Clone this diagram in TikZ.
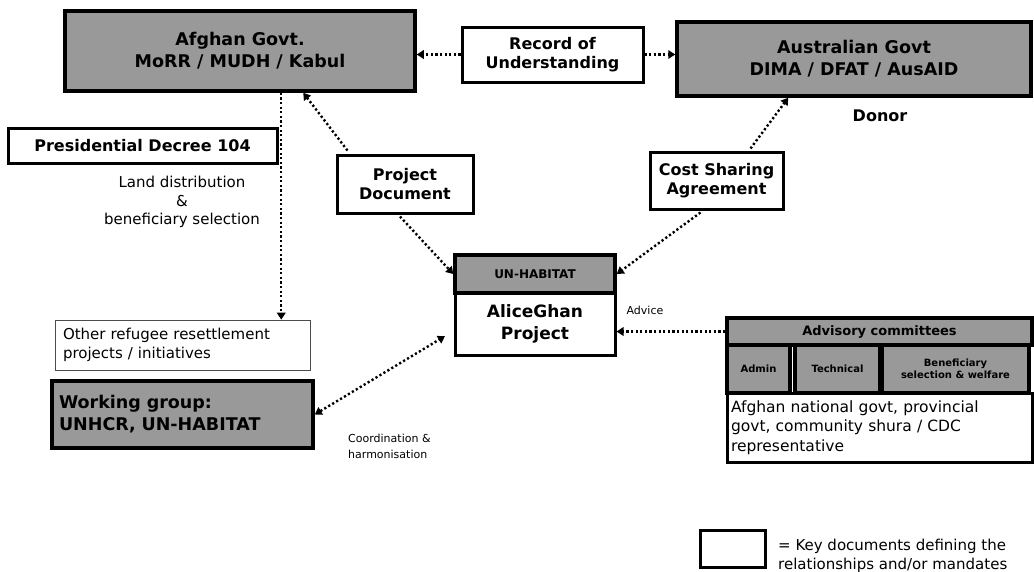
\documentclass[tikz,border=0pt]{standalone}
\usepackage{fontspec}
\setmainfont{DejaVu Sans}
\usetikzlibrary{arrows.meta,calc}
\begin{document}
\begin{tikzpicture}[x=1pt,y=-1pt,
  darkbox/.style={draw, line width=3.5pt, fill=black!40, align=center, inner sep=0pt, font=\bfseries\fontsize{17.5}{22}\selectfont},
  docbox/.style={draw, line width=3pt, fill=white, align=center, inner sep=0pt, font=\bfseries\fontsize{16}{19.5}\selectfont},
  plainbox/.style={draw, line width=3pt, fill=white, inner sep=0pt},
  lbl/.style={inner sep=0pt, align=center, font=\fontsize{15}{18.5}\selectfont},
  small/.style={inner sep=0pt, align=left, font=\fontsize{11}{16}\selectfont},
  conn/.style={line width=2.4pt, dash pattern=on 2.2pt off 2.4pt, -{Triangle[length=7pt,width=8.5pt]}},
  conntwo/.style={line width=2.4pt, dash pattern=on 2.2pt off 2.4pt, {Triangle[length=7pt,width=8.5pt]}-{Triangle[length=7pt,width=8.5pt]}}]
\useasboundingbox (0,0) rectangle (1034,571);

% top row
\node[darkbox, minimum width=350pt, minimum height=80pt] (gov) at (240,51) {Afghan Govt.\\MoRR / MUDH / Kabul};
\node[docbox, minimum width=181pt, minimum height=55pt] (rou) at (552.5,54.5) {Record of\\Understanding};
\node[darkbox, minimum width=354pt, minimum height=74pt] (don) at (854,59) {Australian Govt\\DIMA / DFAT / AusAID};
\node[inner sep=0pt, font=\bfseries\fontsize{16}{18}\selectfont] (donlbl) at (880,116) {Donor};

% left column
\node[docbox, minimum width=269pt, minimum height=35pt] (pd) at (142.5,145.5) {Presidential Decree 104};
\node[lbl] (land) at (182,202) {Land distribution\\\&\\beneficiary selection};

% documents
\node[docbox, minimum width=136pt, minimum height=58pt] (pdoc) at (405,184) {Project\\Document};
\node[docbox, minimum width=133pt, minimum height=57pt] (csa) at (716.5,180.5) {Cost Sharing\\Agreement};

% AliceGhan project
\node[darkbox, minimum width=160pt, minimum height=38pt, font=\bfseries\fontsize{12}{14}\selectfont] (alih) at (535,274) {UN-HABITAT};
\node[plainbox, minimum width=160pt, minimum height=62pt, align=center, font=\bfseries\fontsize{17}{22}\selectfont] (alil) at (535,324) {AliceGhan\\Project};

% advisory committees
\node[darkbox, minimum width=305pt, minimum height=27pt, font=\bfseries\fontsize{13}{15}\selectfont] (advh) at (879.5,331.5) {Advisory committees};
\node[darkbox, minimum width=63pt, minimum height=48pt, font=\bfseries\fontsize{10}{12}\selectfont] (adma) at (758.5,369) {Admin};
\node[darkbox, minimum width=85pt, minimum height=48pt, font=\bfseries\fontsize{10}{12}\selectfont] (tech) at (837.5,369) {Technical};
\node[darkbox, minimum width=147pt, minimum height=48pt, font=\bfseries\fontsize{10}{12}\selectfont] (ben) at (955.5,369) {Beneficiary\\selection \& welfare};
\node[plainbox, minimum width=305pt, minimum height=69pt, align=left, text width=297pt, inner xsep=4pt, font=\fontsize{15.5}{19.5}\selectfont] (advb) at (879.5,427.5) {Afghan national govt, provincial\\govt, community shura / CDC\\representative};

% other projects
\node[draw, line width=0.6pt, draw=black!70, minimum width=255pt, minimum height=50pt, inner xsep=8pt, align=left, text width=239pt, font=\fontsize{15}{19}\selectfont] (other) at (182.5,345) {Other refugee resettlement\\projects / initiatives};
\node[darkbox, minimum width=261pt, minimum height=67pt, align=left, text width=247pt, font=\bfseries\fontsize{17.5}{22}\selectfont] (wg) at (182.5,414.5) {Working group:\\UNHCR, UN-HABITAT};

% labels
\node[small] (advlbl) at (645,310) {Advice};
\node[small, anchor=west] (coordlbl) at (348,446) {Coordination \&\\harmonisation};

% legend
\node[plainbox, minimum width=65pt, minimum height=37pt] (leg) at (732.5,548.5) {};
\node[inner sep=0pt, anchor=west, align=left, font=\fontsize{15}{18.5}\selectfont] (legtxt) at (778,556) {= Key documents defining the\\relationships and/or mandates};

% connectors
\draw[conn] (rou.west) -- (rou.west -| gov.east);
\draw[conn] (rou.east) -- (rou.east -| don.west);
\coordinate (gdown) at ($(gov.south west)+(218,0)$);
\draw[conn] (gdown) -- (gdown |- other.north);
\draw[conn] ($(pdoc.north west)+(12,-3)$) -- ($(gov.south west)+(240,0)$);
\draw[conn] ($(pdoc.south)+(-5,2)$) -- (alih.west);
\draw[conn] ($(csa.north)+(34,-2)$) -- ($(don.south west)+(113,0)$);
\draw[conn] ($(csa.south)+(-16,2)$) -- (alih.east);
\draw[conn] (advh.west) -- (advh.west -| alil.east);
\draw[conntwo, shorten >=10pt] (wg.east) -- ($(alil.west)+(0,7)$);
\end{tikzpicture}
\end{document}
